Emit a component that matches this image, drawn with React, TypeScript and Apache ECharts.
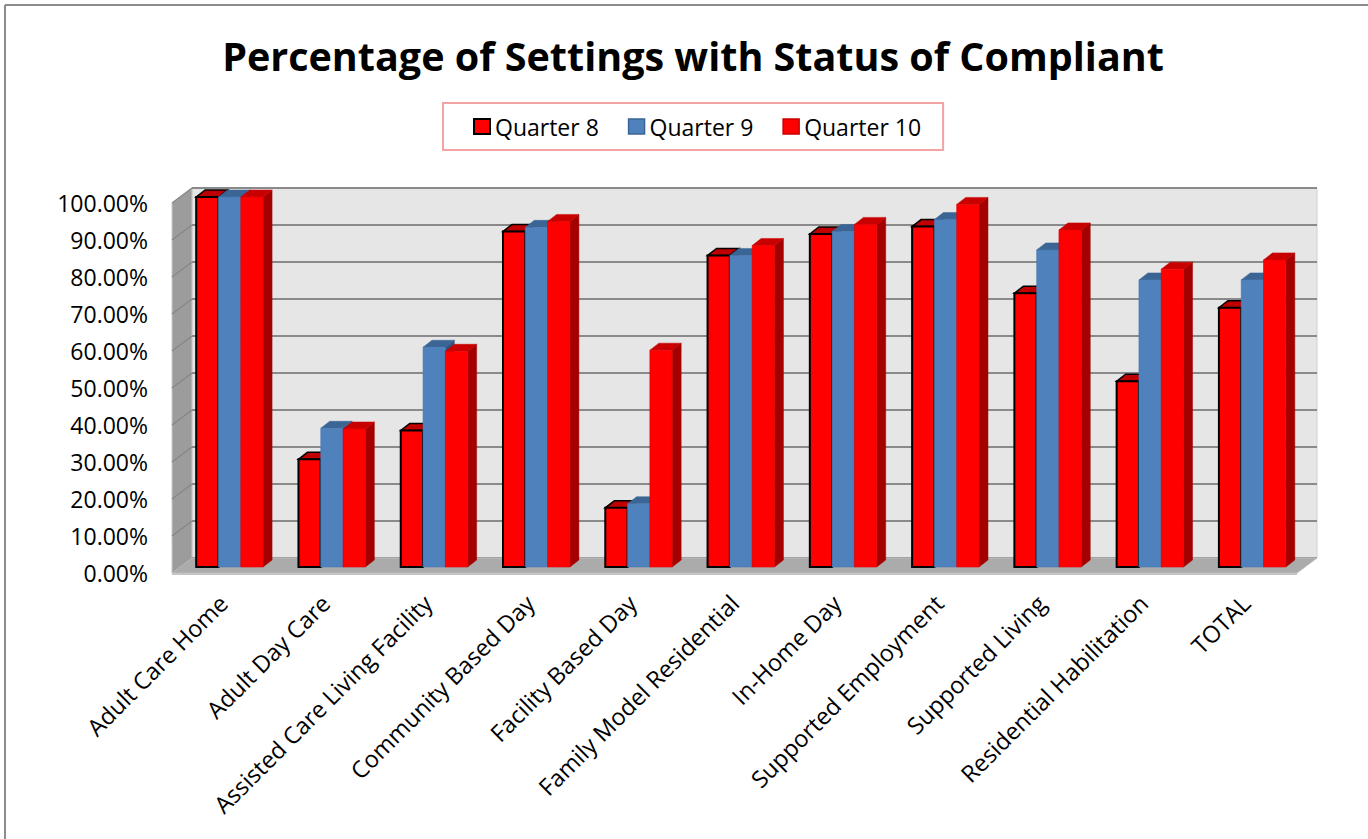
import React, { useEffect, useRef } from "react";
import * as echarts from "echarts";

const categories = [
  "Adult Care Home",
  "Adult Day Care",
  "Assisted Care Living Facility",
  "Community Based Day",
  "Facility Based Day",
  "Family Model Residential",
  "In-Home Day",
  "Supported Employment",
  "Supported Living",
  "Residential Habilitation",
  "TOTAL",
];
const quarter8 = [100, 29.1, 36.9, 90.7, 16.0, 84.2, 90.0, 92.0, 74.0, 50.2, 70.1];
const quarter9 = [100, 37.5, 59.4, 91.8, 17.1, 84.2, 90.7, 93.9, 85.7, 77.6, 77.6];
const quarter10 = [100, 37.3, 58.3, 93.4, 58.6, 86.9, 92.6, 98.0, 91.1, 80.5, 83.0];
const seriesNames = ["Quarter 8", "Quarter 9", "Quarter 10"];
const yTicks = [0, 10, 20, 30, 40, 50, 60, 70, 80, 90, 100];

const FONT = "'Open Sans', Lato, sans-serif";
// 3D projection offsets
const WALL_DX = 20;
const WALL_DY = -15;
const BAR_PX = 6.5;
const BAR_PY = -6;
const DEPTH_DX = 9;
const DEPTH_DY = -7;

const styles = [
  { front: "#FF0000", top: "#C00000", side: "#A50000", stroke: "#000000", lw: 2 },
  { front: "#4F81BD", top: "#3A6595", side: "#2F5480", stroke: "#4A7AB3", lw: 0.6 },
  { front: "#FF0000", top: "#C80000", side: "#A50000", stroke: "#E00000", lw: 0.6 },
];

export default function App() {
  const ref = useRef<HTMLDivElement>(null);
  useEffect(() => {
    if (!ref.current) return;
    const chart = echarts.init(ref.current, undefined, { renderer: "svg" });

    const barSeries = [quarter8, quarter9, quarter10].map((vals, k) => ({
      type: "custom",
      name: seriesNames[k],
      z: 10 + k,
      itemStyle: { color: styles[k].front, borderColor: styles[k].stroke, borderWidth: styles[k].lw },
      data: vals.map((v, i) => [i, v]),
      renderItem: (params: any, api: any) => {
        const cat = api.value(0);
        const v = api.value(1);
        const base = api.coord([cat, 0]);
        const top = api.coord([cat, v]);
        const bandW = api.size([1, 0])[0];
        const bw = bandW * 0.218;
        const cx = base[0] + BAR_PX;
        const x0 = cx + (k - 1.5) * bw;
        const x1 = x0 + bw;
        const yb = base[1] + BAR_PY;
        const yt = top[1] + BAR_PY;
        const s = styles[k];
        const children: any[] = [
          {
            type: "polygon",
            shape: { points: [[x1, yt], [x1 + DEPTH_DX, yt + DEPTH_DY], [x1 + DEPTH_DX, yb + DEPTH_DY], [x1, yb]] },
            style: { fill: s.side, stroke: s.side, lineWidth: 0.5 },
          },
          {
            type: "polygon",
            shape: { points: [[x0, yt], [x1, yt], [x1 + DEPTH_DX, yt + DEPTH_DY], [x0 + DEPTH_DX, yt + DEPTH_DY]] },
            style: { fill: s.top, stroke: k === 0 ? "#000" : s.top, lineWidth: k === 0 ? 1.5 : 0.5 },
          },
          {
            type: "rect",
            shape: { x: x0, y: yt, width: bw, height: yb - yt },
            style: { fill: s.front, stroke: s.stroke, lineWidth: s.lw },
          },
        ];
        return { type: "group", children };
      },
    }));

    const bgSeries = {
      type: "custom",
      name: "bg",
      z: 1,
      silent: true,
      data: [[0, 0]],
      renderItem: (params: any, api: any) => {
        const cs = params.coordSys;
        const x = cs.x;
        const w = cs.width;
        const y0 = api.coord([0, 0])[1];
        const y100 = api.coord([0, 100])[1];
        const children: any[] = [];
        children.push({
          type: "rect",
          shape: { x: x + WALL_DX, y: y100 + WALL_DY, width: w, height: y0 - y100 },
          style: { fill: "#E6E6E6", stroke: "#D0D0D0", lineWidth: 1 },
        });
        children.push({
          type: "polygon",
          shape: { points: [[x, y100], [x + WALL_DX, y100 + WALL_DY], [x + WALL_DX, y0 + WALL_DY], [x, y0]] },
          style: { fill: "#9C9C9C", stroke: "#C8C8C8", lineWidth: 1 },
        });
        yTicks.forEach((t) => {
          const yy = api.coord([0, t])[1];
          children.push({
            type: "line",
            shape: { x1: x + WALL_DX, y1: yy + WALL_DY, x2: x + WALL_DX + w, y2: yy + WALL_DY },
            style: { stroke: "#8A8A8A", lineWidth: 2 },
          });
          children.push({
            type: "line",
            shape: { x1: x, y1: yy, x2: x + WALL_DX, y2: yy + WALL_DY },
            style: { stroke: "#858585", lineWidth: 1.2 },
          });
        });
        children.push({
          type: "polygon",
          shape: { points: [[x, y0], [x + w, y0], [x + w + WALL_DX, y0 + WALL_DY], [x + WALL_DX, y0 + WALL_DY]] },
          style: { fill: "#ABABAB", stroke: "#BDBDBD", lineWidth: 1 },
        });
        children.push({
          type: "line",
          shape: { x1: x, y1: y0 + 1, x2: x + w, y2: y0 + 1 },
          style: { stroke: "#C4C4C4", lineWidth: 2 },
        });
        return { type: "group", children };
      },
    };

    chart.setOption({
      animation: false,
      backgroundColor: "#FFFFFF",
      textStyle: { fontFamily: FONT },
      graphic: [
        {
          type: "text",
          x: 693,
          y: 56,
          style: {
            text: "Percentage of Settings with Status of Compliant",
            font: `bold 39.5px ${FONT}`,
            fill: "#000000",
            textAlign: "center",
            textVerticalAlign: "middle",
          },
        },
        {
          type: "line",
          shape: { x1: 5, y1: 5, x2: 1368, y2: 5 },
          style: { stroke: "#8C8C8C", lineWidth: 2 },
        },
        {
          type: "line",
          shape: { x1: 5, y1: 5, x2: 5, y2: 839 },
          style: { stroke: "#8C8C8C", lineWidth: 2 },
        },
      ],
      legend: {
        left: 443,
        top: 103,
        padding: [12, 22, 12, 30],
        borderColor: "#F2A3A3",
        borderWidth: 2,
        backgroundColor: "#FFFFFF",
        itemWidth: 16,
        itemHeight: 15,
        itemGap: 29,
        icon: "rect",
        textStyle: { fontFamily: FONT, fontSize: 23, color: "#000" },
        data: seriesNames.map((n, k) => ({
          name: n,
          icon: "rect",
          itemStyle: { color: styles[k].front, borderColor: k === 0 ? "#000" : styles[k].top, borderWidth: k === 0 ? 2 : 1.5 },
        })),
      },
      grid: { left: 172, top: 203, width: 1125, height: 370 },
      xAxis: {
        type: "category",
        data: categories,
        axisLine: { show: false },
        axisTick: { show: false },
        splitLine: { show: false },
        axisLabel: {
          rotate: 45,
          interval: 0,
          margin: 26,
          fontFamily: FONT,
          fontSize: 23.5,
          color: "#000",
        },
      },
      yAxis: {
        type: "value",
        min: 0,
        max: 100,
        interval: 10,
        axisLine: { show: false },
        axisTick: { show: false },
        splitLine: { show: false },
        axisLabel: {
          margin: 24,
          fontFamily: FONT,
          fontSize: 23,
          color: "#000",
          formatter: (v: number) => v.toFixed(2) + "%",
        },
      },
      series: [bgSeries, ...barSeries],
    });
    return () => chart.dispose();
  }, []);
  return (
    <div
      ref={ref}
      style={{ position: "fixed", left: 0, top: 0, width: 1368, height: 839 }}
    />
  );
}
